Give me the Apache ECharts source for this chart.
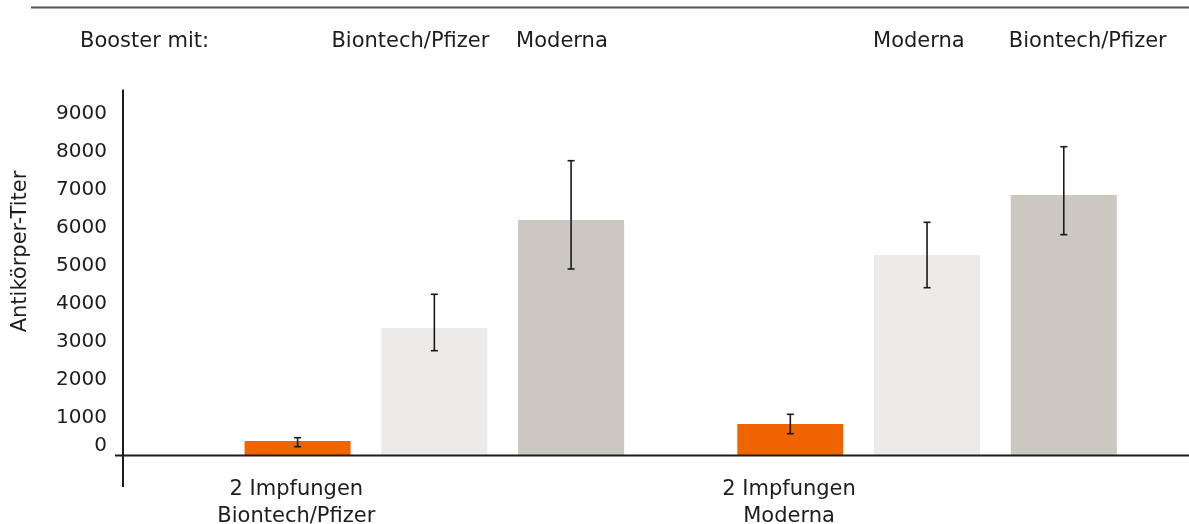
<!DOCTYPE html>
<html>
<head>
<meta charset="utf-8">
<script src="https://cdn.jsdelivr.net/npm/echarts@6/dist/echarts.min.js"></script>
<style>
  html, body { margin: 0; padding: 0; background: #ffffff; overflow: hidden; }
  #chart { width: 1189px; height: 524px; }
</style>
</head>
<body>
<div id="chart"></div>
<script>
// ---- data ----
const categories = ['2 Impfungen\nBiontech/Pfizer', '2 Impfungen\nModerna'];
const seriesNames = ['ohne Booster', 'Booster gleicher Impfstoff', 'Booster anderer Impfstoff'];
const baseValues = [382, 829];          // orange
const homologValues = [3355, 5276];     // light grey
const heterologValues = [6197, 6855];   // darker grey
const baseErr = [[232, 468], [574, 1084]];
const homologErr = [[2758, 4242], [4416, 6137]];
const heterologErr = [[4908, 7758], [5811, 8126]];
const boosterLabels = [['Biontech/Pfizer', 'Moderna'], ['Moderna', 'Biontech/Pfizer']];
const headerLabel = 'Booster mit:';
const yName = 'Antikörper-Titer';
const yTicks = { min: 0, max: 9000, interval: 1000 };

// ---- style ----
const FONT = 'DejaVu Sans';
const TXT = '#1d1d1b';
const colors = ['#ee6400', '#ecebe9', '#cbc8c1'];
const BAR_W = 106;
const GAP_RATIO = 0.29;
const PITCH = BAR_W * (1 + GAP_RATIO);
const offsets = [-PITCH, 0, PITCH];
const GRID_LEFT = 188, GRID_RIGHT = 15.6, GRID_TOP = 113.5, GRID_BOTTOM = 68.5;
const Y_AXIS_X = 123;
const HEADER_Y = 42;

const chart = echarts.init(document.getElementById('chart'), null, { renderer: 'canvas' });

function errSeries(errs, idx) {
  return {
    type: 'custom',
    name: seriesNames[idx] + ' Fehler',
    silent: true,
    z: 10,
    data: errs.map((e, i) => [i, e[0], e[1]]),
    renderItem: function (params, api) {
      const lo = api.coord([api.value(0), api.value(1)]);
      const hi = api.coord([api.value(0), api.value(2)]);
      const x = lo[0] + offsets[idx];
      const cap = 3.5;
      const st = { stroke: '#1a1a1a', lineWidth: 1.6 };
      return {
        type: 'group',
        children: [
          { type: 'line', shape: { x1: x, y1: lo[1], x2: x, y2: hi[1] }, style: st },
          { type: 'line', shape: { x1: x - cap, y1: lo[1], x2: x + cap, y2: lo[1] }, style: st },
          { type: 'line', shape: { x1: x - cap, y1: hi[1], x2: x + cap, y2: hi[1] }, style: st }
        ]
      };
    }
  };
}

const option = {
  animation: false,
  backgroundColor: '#ffffff',
  textStyle: { fontFamily: FONT },
  grid: { left: GRID_LEFT, right: GRID_RIGHT, top: GRID_TOP, bottom: GRID_BOTTOM, containLabel: false, outerBoundsMode: 'none' },
  xAxis: {
    type: 'category',
    data: categories,
    axisLine: { show: false },
    axisTick: { show: false },
    axisLabel: {
      fontFamily: FONT, fontSize: 21, color: TXT, lineHeight: 27,
      margin: 21, align: 'center', padding: [0, 276, 0, 0]
    }
  },
  yAxis: {
    type: 'value',
    min: yTicks.min, max: yTicks.max, interval: yTicks.interval,
    offset: GRID_LEFT - Y_AXIS_X,
    axisLine: { show: false },
    axisTick: { show: false },
    splitLine: { show: false },
    axisLabel: {
      fontFamily: FONT, fontSize: 20, color: TXT, margin: 16,
      formatter: v => (v === 0 ? '{z|0}' : String(v)),
      rich: { z: { fontFamily: FONT, fontSize: 20, color: TXT, padding: [0, 0, 19, 0] } }
    }
  },
  series: [
    { type: 'bar', name: seriesNames[0], data: baseValues, barWidth: BAR_W, barGap: (GAP_RATIO * 100) + '%', itemStyle: { color: colors[0] } },
    { type: 'bar', name: seriesNames[1], data: homologValues, barWidth: BAR_W, barGap: (GAP_RATIO * 100) + '%', itemStyle: { color: colors[1] } },
    { type: 'bar', name: seriesNames[2], data: heterologValues, barWidth: BAR_W, barGap: (GAP_RATIO * 100) + '%', itemStyle: { color: colors[2] } },
    errSeries(baseErr, 0),
    errSeries(homologErr, 1),
    errSeries(heterologErr, 2)
  ]
};
chart.setOption(option);

// ---- decorations: axis lines, header texts ----
const zeroY = chart.convertToPixel({ yAxisIndex: 0 }, 0);
const topY = chart.convertToPixel({ yAxisIndex: 0 }, yTicks.max);
const textStyle = { fontFamily: FONT, fontSize: 21, fill: TXT };
const graphics = [
  { type: 'line', shape: { x1: 31, y1: 7.5, x2: 1189, y2: 7.5 }, style: { stroke: '#555555', lineWidth: 2 }, silent: true },
  { type: 'line', shape: { x1: Y_AXIS_X, y1: topY - 24, x2: Y_AXIS_X, y2: zeroY + 31.5 }, style: { stroke: '#1d1d1b', lineWidth: 2 }, silent: true },
  { type: 'line', shape: { x1: Y_AXIS_X - 8, y1: zeroY, x2: 1189, y2: zeroY }, style: { stroke: '#1d1d1b', lineWidth: 2 }, silent: true, z: 5 },
  { type: 'text', x: 20.5, y: 251.5, rotation: Math.PI / 2, style: Object.assign({ text: yName, align: 'center', verticalAlign: 'middle' }, textStyle), silent: true },
  { type: 'text', x: 80, y: HEADER_Y, style: Object.assign({ text: headerLabel, align: 'left', verticalAlign: 'middle' }, textStyle), silent: true }
];
categories.forEach((c, i) => {
  const cx = chart.convertToPixel({ xAxisIndex: 0 }, i);
  const lightRight = cx + offsets[1] + BAR_W / 2;
  const lightLeft = cx + offsets[1] - BAR_W / 2;
  const darkLeft = cx + offsets[2] - BAR_W / 2;
  if (i === 0) {
    graphics.push({ type: 'text', x: lightRight + 2, y: HEADER_Y, style: Object.assign({ text: boosterLabels[i][0], align: 'right', verticalAlign: 'middle' }, textStyle), silent: true });
  } else {
    graphics.push({ type: 'text', x: lightLeft - 1, y: HEADER_Y, style: Object.assign({ text: boosterLabels[i][0], align: 'left', verticalAlign: 'middle' }, textStyle), silent: true });
  }
  graphics.push({ type: 'text', x: darkLeft - 2, y: HEADER_Y, style: Object.assign({ text: boosterLabels[i][1], align: 'left', verticalAlign: 'middle' }, textStyle), silent: true });
});
chart.setOption({ graphic: graphics });
</script>
</body>
</html>
